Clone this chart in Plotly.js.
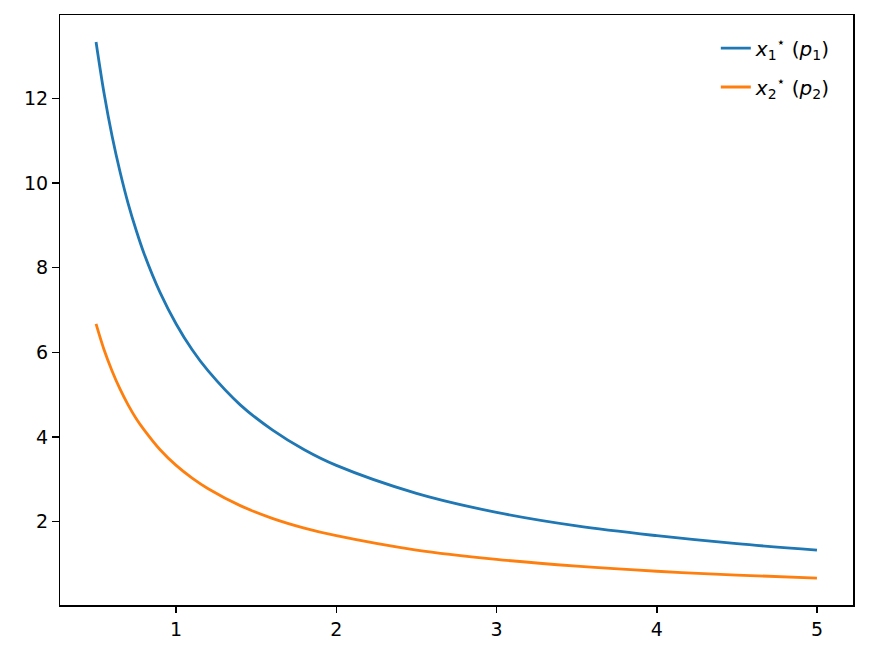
<!DOCTYPE html>
<html>
<head>
<meta charset="utf-8">
<script src="https://cdn.plot.ly/plotly-3.0.1.min.js"></script>
<style>html,body{margin:0;padding:0;background:#fff;}#chart{width:869px;height:658px;}</style>
</head>
<body>
<div id="chart"></div>
<script>
const prices = [0.5, 0.55, 0.6, 0.65, 0.7, 0.75, 0.8, 0.9, 1.0, 1.1, 1.2, 1.4, 1.6, 1.8, 2.0, 2.5, 3.0, 3.5, 4.0, 4.5, 5.0];
const demand1 = [13.33, 12.12, 11.11, 10.26, 9.52, 8.89, 8.33, 7.41, 6.67, 6.06, 5.56, 4.76, 4.17, 3.70, 3.33, 2.67, 2.22, 1.90, 1.67, 1.48, 1.33];
const demand2 = [6.67, 6.06, 5.56, 5.13, 4.76, 4.44, 4.17, 3.70, 3.33, 3.03, 2.78, 2.38, 2.08, 1.85, 1.67, 1.33, 1.11, 0.95, 0.83, 0.74, 0.67];
const seriesNames = ['<i>x</i><sub>1</sub><sup>⋆</sup> (<i>p</i><sub>1</sub>)', '<i>x</i><sub>2</sub><sup>⋆</sup> (<i>p</i><sub>2</sub>)'];
const seriesColors = ['#1f77b4', '#ff7f0e'];
const legendIds = ['legend', 'legend2'];

const traces = [demand1, demand2].map((ys, i) => ({
  x: prices, y: ys, type: 'scatter', mode: 'lines', name: seriesNames[i], legend: legendIds[i],
  line: {color: seriesColors[i], width: 2.8, shape: 'spline', smoothing: 1}
}));

const axisCommon = {
  showgrid: false, zeroline: false, showline: true, mirror: true,
  linecolor: '#000', linewidth: 1.5, ticks: 'outside', ticklen: 6.6, tickwidth: 1.5,
  tickcolor: '#000', tickfont: {family: 'DejaVu Sans', size: 19, color: '#000'}
};

const legendCommon = {xanchor: 'left', yanchor: 'middle', bgcolor: 'rgba(255,255,255,0)',
  borderwidth: 0, font: {family: 'DejaVu Sans', size: 20, color: '#000'}};

const layout = {
  width: 869, height: 658,
  margin: {l: 60, r: 16, t: 15, b: 53},
  paper_bgcolor: '#fff', plot_bgcolor: '#fff',
  font: {family: 'DejaVu Sans', size: 19, color: '#000'},
  xaxis: Object.assign({}, axisCommon, {range: [0.275, 5.225], tickvals: [1, 2, 3, 4, 5]}),
  yaxis: Object.assign({}, axisCommon, {range: [0.033, 13.967], tickvals: [2, 4, 6, 8, 10, 12]}),
  showlegend: true,
  legend: Object.assign({}, legendCommon, {x: 0.827, y: 0.944}),
  legend2: Object.assign({}, legendCommon, {x: 0.827, y: 0.878})
};

Plotly.newPlot('chart', traces, layout, {displayModeBar: false, staticPlot: true});
</script>
</body>
</html>
